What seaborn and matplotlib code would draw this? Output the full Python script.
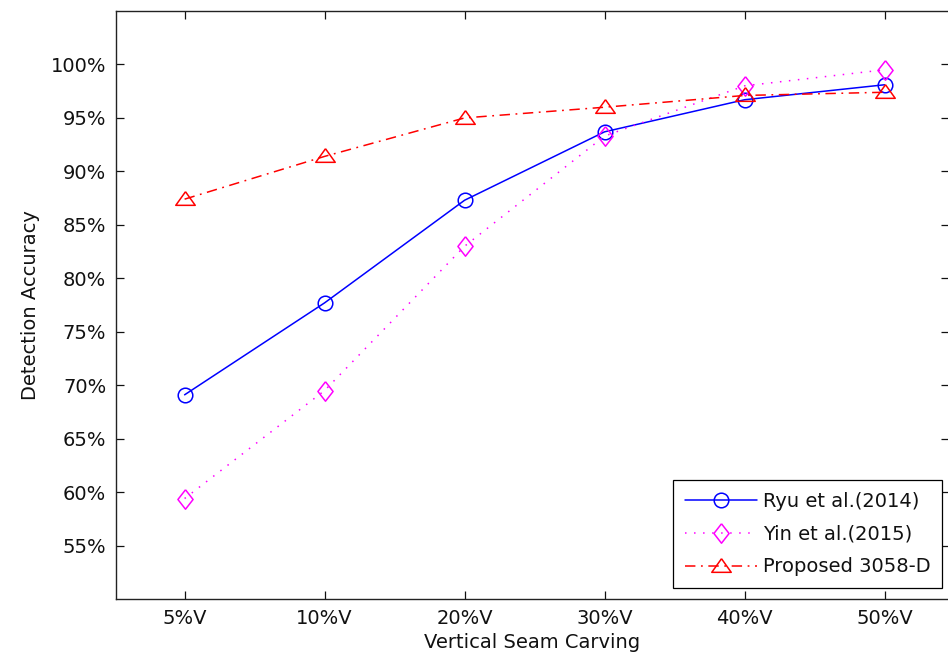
import numpy as np
import pandas as pd
import matplotlib
matplotlib.use('Agg')
import matplotlib.pyplot as plt
import seaborn as sns

# data
carving = ['5%V', '10%V', '20%V', '30%V', '40%V', '50%V']
ryu = [69.1, 77.7, 87.3, 93.7, 96.7, 98.1]
yin = [59.4, 69.5, 83.0, 93.3, 98.0, 99.5]
proposed = [87.4, 91.4, 95.0, 96.0, 97.1, 97.4]
y_ticks = [55, 60, 65, 70, 75, 80, 85, 90, 95, 100]

sns.set_style('ticks')
plt.rcParams['font.family'] = ['DejaVu Sans']
plt.rcParams['lines.scale_dashes'] = False
plt.rcParams['text.color'] = '#111111'
plt.rcParams['axes.labelcolor'] = '#111111'

fig = plt.figure(figsize=(9.48, 6.67), dpi=100)
ax = fig.add_axes([116 / 948, 68 / 667, 833 / 948, 588 / 667])

diamond = [(0, 1), (0.78, 0), (0, -1), (-0.78, 0), (0, 1)]
triangle = [(0, 0.8), (1, -0.6), (-1, -0.6), (0, 0.8)]

sns.lineplot(x=carving, y=ryu, ax=ax, color='#0000ff', lw=1.1, sort=False,
             marker='o', markersize=10.5, markerfacecolor='none',
             markeredgecolor='#0000ff', markeredgewidth=1.1,
             label='Ryu et al.(2014)')
sns.lineplot(x=carving, y=yin, ax=ax, color='#ff00ff', lw=1.1, sort=False,
             linestyle=(0, (1.1, 5.4)), marker=diamond, markersize=14,
             markerfacecolor='none', markeredgecolor='#ff00ff',
             markeredgewidth=1.1, label='Yin et al.(2015)')
sns.lineplot(x=carving, y=proposed, ax=ax, color='#ff0000', lw=1.1, sort=False,
             linestyle=(0, (7.5, 4.0, 1.3, 4.0)), marker=triangle,
             markersize=14, markerfacecolor='none', markeredgecolor='#ff0000',
             markeredgewidth=1.1, label='Proposed 3058-D')

ax.set_xlim(-0.49, 5.46)
ax.set_ylim(50, 105)
ax.set_yticks(y_ticks)
ax.set_yticklabels([f'{v}%' for v in y_ticks])
ax.set_xlabel('Vertical Seam Carving', fontsize=14, labelpad=4)
ax.set_ylabel('Detection Accuracy', fontsize=14, labelpad=8)

ax.tick_params(direction='in', length=6, width=0.9, top=True, right=True,
               labelsize=14, pad=7, colors='#111111')
for s in ax.spines.values():
    s.set_visible(True)
    s.set_linewidth(1.0)
    s.set_color('#222222')

leg = ax.legend(loc='lower right', bbox_to_anchor=(0.9916, 0.0187),
                borderaxespad=0, fontsize=14, frameon=True, fancybox=False,
                framealpha=1, edgecolor='black', handlelength=3.7,
                labelspacing=0.7, handletextpad=0.3, borderpad=0.6)
leg.get_frame().set_linewidth(0.9)

fig.savefig('out.png', dpi=100)
